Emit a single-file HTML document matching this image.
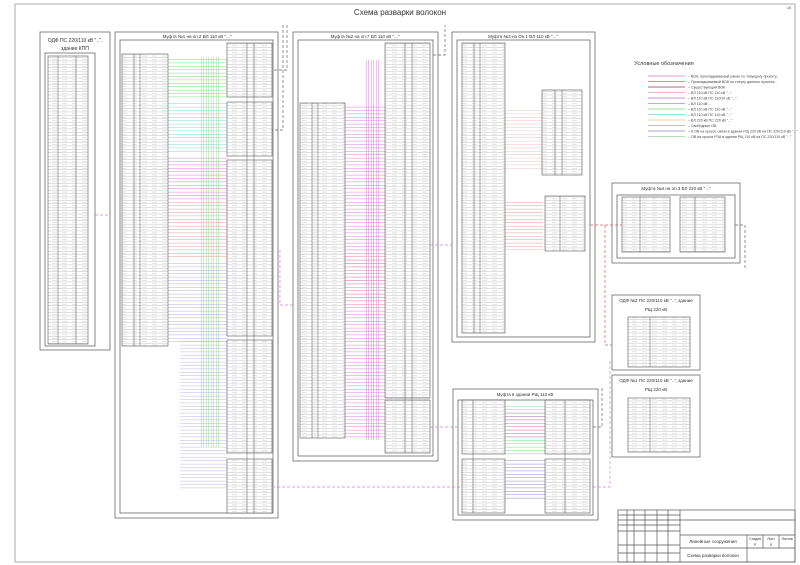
<!DOCTYPE html>
<html><head><meta charset="utf-8"><style>
html,body{margin:0;padding:0;background:#fff;}
svg{display:block;font-family:"Liberation Sans",sans-serif;}
</style></head><body>
<svg width="800" height="565" viewBox="0 0 800 565" xmlns="http://www.w3.org/2000/svg">
<defs>
<pattern id="rows" width="10" height="3.4" patternUnits="userSpaceOnUse"><rect width="10" height="3.4" fill="#fff"/><line x1="0" y1="3.2" x2="10" y2="3.2" stroke="#aaa" stroke-width="0.4"/><rect x="2" y="1.3" width="5" height="0.7" fill="#d8d8d8"/></pattern>
<pattern id="pm" width="10" height="3.4" patternUnits="userSpaceOnUse"><line x1="0" y1="1.7" x2="10" y2="1.7" stroke="#d77fd7" stroke-width="0.5"/></pattern>
<pattern id="pg" width="10" height="3.4" patternUnits="userSpaceOnUse"><line x1="0" y1="1.7" x2="10" y2="1.7" stroke="#7fd67f" stroke-width="0.5"/></pattern>
<pattern id="pc" width="10" height="3.4" patternUnits="userSpaceOnUse"><line x1="0" y1="1.7" x2="10" y2="1.7" stroke="#7fd8d8" stroke-width="0.5"/></pattern>
<pattern id="pr" width="10" height="3.4" patternUnits="userSpaceOnUse"><line x1="0" y1="1.7" x2="10" y2="1.7" stroke="#e39a9a" stroke-width="0.5"/></pattern>
<pattern id="pb" width="10" height="3.4" patternUnits="userSpaceOnUse"><line x1="0" y1="1.7" x2="10" y2="1.7" stroke="#8a8ad0" stroke-width="0.5"/></pattern>
<pattern id="vm" width="2.5" height="10" patternUnits="userSpaceOnUse"><line x1="1.2" y1="0" x2="1.2" y2="10" stroke="#d77fd7" stroke-width="0.5"/></pattern>
<pattern id="vg" width="2.5" height="10" patternUnits="userSpaceOnUse"><line x1="1.2" y1="0" x2="1.2" y2="10" stroke="#7fd67f" stroke-width="0.5"/></pattern>
</defs>
<g fill="none" stroke="#555" stroke-width="0.7">
<rect x="15" y="4" width="780" height="558" stroke="#888"/>
<rect x="40" y="32" width="70" height="318"/>
<rect x="45" y="53" width="50" height="293"/>
<rect x="115" y="32" width="163" height="486"/>
<rect x="120" y="40" width="153" height="473"/>
<rect x="293" y="32" width="145" height="429"/>
<rect x="298" y="40" width="135" height="416"/>
<rect x="452" y="32" width="143" height="310"/>
<rect x="457" y="40" width="133" height="297"/>
<rect x="612" y="183" width="128" height="80"/>
<rect x="617" y="195" width="118" height="63"/>
<rect x="612" y="295" width="88" height="75"/>
<rect x="612" y="375" width="88" height="82"/>
<rect x="453" y="389" width="145" height="131"/>
<rect x="458" y="400" width="135" height="115"/>
<rect x="618" y="510" width="177" height="52"/>
<line x1="680" y1="520" x2="795" y2="520"/><line x1="680" y1="535" x2="795" y2="535"/><line x1="680" y1="548" x2="795" y2="548"/>
<line x1="618" y1="531" x2="680" y2="531"/><line x1="680" y1="510" x2="680" y2="562"/>
<line x1="747" y1="535" x2="747" y2="562"/><line x1="763" y1="535" x2="763" y2="548"/><line x1="779" y1="535" x2="779" y2="548"/>
<line x1="627" y1="510" x2="627" y2="562"/><line x1="634" y1="510" x2="634" y2="562"/><line x1="645" y1="510" x2="645" y2="562"/><line x1="657" y1="510" x2="657" y2="562"/><line x1="668" y1="510" x2="668" y2="562"/>
<line x1="618" y1="515" x2="680" y2="515"/><line x1="618" y1="520" x2="680" y2="520"/><line x1="618" y1="525" x2="680" y2="525"/><line x1="618" y1="545" x2="680" y2="545"/><line x1="618" y1="553" x2="680" y2="553"/>
</g>
<g stroke="none">
<rect x="168" y="57" width="60" height="42" fill="url(#pg)"/>
<rect x="168" y="103" width="60" height="50" fill="url(#pc)"/>
<rect x="168" y="155" width="60" height="45" fill="url(#pm)"/>
<rect x="168" y="200" width="60" height="60" fill="url(#pr)"/>
<rect x="200" y="57" width="20" height="390" fill="url(#vg)" opacity="0.8"/>
<rect x="168" y="262" width="60" height="80" fill="url(#pb)" opacity="0.7"/>
<rect x="180" y="340" width="47" height="150" fill="url(#pb)" opacity="0.6"/>
<rect x="345" y="105" width="40" height="335" fill="url(#pm)"/>
<rect x="365" y="60" width="15" height="380" fill="url(#vm)"/>
<rect x="345" y="250" width="40" height="60" fill="url(#pr)" opacity="0.8"/>
<rect x="505" y="200" width="38" height="50" fill="url(#pr)"/>
<rect x="505" y="110" width="38" height="60" fill="url(#pr)" opacity="0.6"/>
<rect x="505" y="405" width="40" height="50" fill="url(#pg)"/>
<rect x="505" y="460" width="40" height="40" fill="url(#pb)"/>
<rect x="505" y="410" width="40" height="30" fill="url(#pm)"/>
</g>
<g stroke="#555" stroke-width="0.6" fill="url(#rows)">
<rect x="48" y="56" width="40" height="288"/>
<rect x="122" y="54" width="46" height="292"/>
<rect x="227" y="43" width="45" height="54"/>
<rect x="227" y="102" width="45" height="54"/>
<rect x="227" y="160" width="45" height="176"/>
<rect x="227" y="340" width="45" height="113"/>
<rect x="227" y="459" width="45" height="54"/>
<rect x="300" y="103" width="45" height="335"/>
<rect x="385" y="43" width="45" height="355"/>
<rect x="385" y="400" width="45" height="53"/>
<rect x="462" y="43" width="43" height="290"/>
<rect x="542" y="90" width="40" height="85"/>
<rect x="545" y="196" width="40" height="55"/>
<rect x="622" y="197" width="48" height="55"/>
<rect x="680" y="197" width="45" height="55"/>
<rect x="628" y="317" width="62" height="50"/>
<rect x="628" y="398" width="62" height="54"/>
<rect x="462" y="400" width="43" height="54"/>
<rect x="462" y="459" width="43" height="54"/>
<rect x="545" y="400" width="45" height="54"/>
<rect x="545" y="459" width="45" height="54"/>
</g>
<g stroke="#555" stroke-width="0.5">
<path d="M58 56V344M76 56V344M134 54V346M140 54V346M247 43V513M254 43V513M312 103V438M318 103V438M405 43V453M412 43V453M474 43V333M480 43V333M555 90V175M562 90V175M560 196V251M640 197V252M695 197V252M650 317V367M650 398V452M473 400V513M565 400V513"/>
</g>
<g fill="none" stroke-width="0.7" stroke-dasharray="3,2">
<path d="M95 215H110" stroke="#d77fd7"/>
<path d="M272 487H460" stroke="#d77fd7"/>
<path d="M430 427H460" stroke="#d77fd7"/>
<path d="M430 245H452" stroke="#d77fd7"/>
<path d="M280 250V305H293" stroke="#d77fd7"/>
<path d="M593 487H610V360" stroke="#d77fd7"/>
<path d="M590 225H605V345H612" stroke="#e06060"/>
<path d="M605 225H622" stroke="#e06060"/>
<path d="M283 25V130H272M287 25V70H272" stroke="#666"/>
<path d="M433 55H445V25" stroke="#666"/>
<path d="M593 427H602V388" stroke="#666"/>
<path d="M735 225H745V270" stroke="#666"/>
</g>
<g stroke-width="0.8">
<line x1="648" y1="76" x2="685" y2="76" stroke="#d77fd7"/>
<line x1="648" y1="81.5" x2="685" y2="81.5" stroke="#e06060"/>
<line x1="648" y1="87" x2="685" y2="87" stroke="#555"/>
<line x1="648" y1="92.5" x2="685" y2="92.5" stroke="#e3a0a0"/>
<line x1="648" y1="98" x2="685" y2="98" stroke="#b070d0"/>
<line x1="648" y1="103.5" x2="685" y2="103.5" stroke="#c080e0"/>
<line x1="648" y1="109" x2="685" y2="109" stroke="#7fd67f"/>
<line x1="648" y1="114.5" x2="685" y2="114.5" stroke="#7fd8d8"/>
<line x1="648" y1="120" x2="685" y2="120" stroke="#f0c080"/>
<line x1="648" y1="125.5" x2="685" y2="125.5" stroke="#aaa"/>
<line x1="648" y1="131" x2="685" y2="131" stroke="#8a8ad0"/>
<line x1="648" y1="136.5" x2="685" y2="136.5" stroke="#9fd09f"/>
</g>
<g font-size="3.6" fill="#444">
<text x="688" y="77.5">– ВОК, прокладываемый ранее по текущему проекту...</text>
<text x="688" y="83">– Прокладываемый ВОК по титулу данного проекта...</text>
<text x="688" y="88.5">– Существующий ВОК</text>
<text x="688" y="94">– ВЛ 110 кВ ПС 110 кВ "..."</text>
<text x="688" y="99.5">– ВЛ 110 кВ ПС 110/10 кВ "..."</text>
<text x="688" y="105">– ВЛ 110 кВ ...</text>
<text x="688" y="110.5">– ВЛ 110 кВ ПС 110 кВ "..."</text>
<text x="688" y="116">– ВЛ 110 кВ ПС 110 кВ "..."</text>
<text x="688" y="121.5">– ВЛ 220 кВ ПС 220 кВ "..."</text>
<text x="688" y="127">– Свободные ОВ</text>
<text x="688" y="132.5">– К ОВ на кроссе связи в здании РЩ 220 кВ на ПС 220/110 кВ "..."</text>
<text x="688" y="138">– ОВ на кроссе РЗА в здании РЩ 110 кВ на ПС 220/110 кВ "..."</text>
</g>
<g fill="#333" text-anchor="middle">
<text x="400" y="15" font-size="8">Схема разварки волокон</text>
<text x="664" y="65" font-size="5.5">Условные обозначения</text>
<text x="75" y="42" font-size="5">ОДФ ПС 220/110 кВ "..",</text>
<text x="75" y="50" font-size="5">здание КПП</text>
<text x="197" y="38" font-size="4.5">Муфта №1 на оп.2 ВЛ 110 кВ "..."</text>
<text x="365" y="38" font-size="4.5">Муфта №2 на оп.7 ВЛ 110 кВ "..."</text>
<text x="523" y="38" font-size="4.5">Муфта №3 на Оп.1 ВЛ 110 кВ "..."</text>
<text x="676" y="190" font-size="4.5">Муфта №4 на оп.3 ВЛ 220 кВ "..."</text>
<text x="656" y="302" font-size="4.5">ОДФ №2 ПС 220/110 кВ "..", здание</text>
<text x="656" y="311" font-size="4.5">РЩ 220 кВ</text>
<text x="656" y="382" font-size="4.5">ОДФ №1 ПС 220/110 кВ "..", здание</text>
<text x="656" y="391" font-size="4.5">РЩ 220 кВ</text>
<text x="525" y="396" font-size="4.5">Муфта в здании РЩ 110 кВ</text>
<text x="713" y="543" font-size="4.5">Линейные сооружения</text>
<text x="713" y="557" font-size="4.5">Схема разварки волокон</text>
<text x="755" y="540" font-size="3.5">Стадия</text>
<text x="771" y="540" font-size="3.5">Лист</text>
<text x="787" y="540" font-size="3.5">Листов</text>
<text x="755" y="546" font-size="3.5">Р</text>
<text x="771" y="546" font-size="3.5">5</text>
<text x="789" y="9" font-size="3.5">15</text>
</g>
</svg>
</body></html>
